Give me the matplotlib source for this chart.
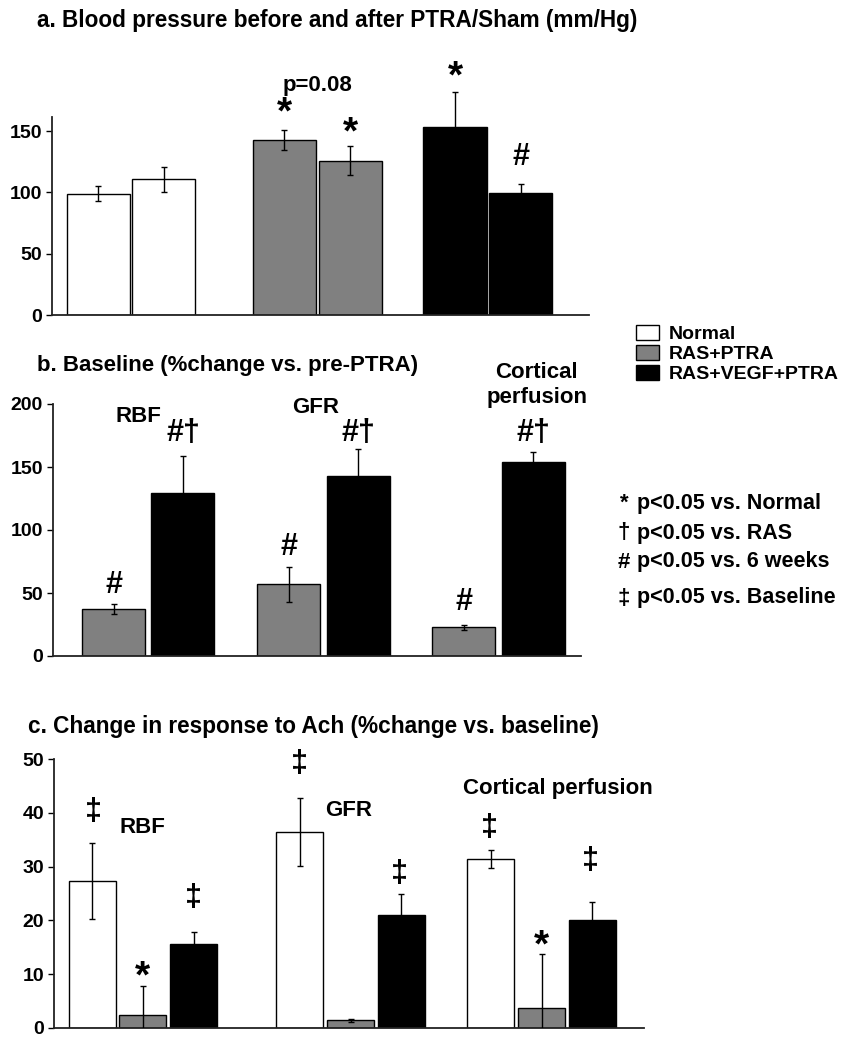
import matplotlib
matplotlib.use("Agg")
import matplotlib.pyplot as plt
from matplotlib.patches import Patch

plt.rcParams['font.family'] = ['Liberation Sans', 'DejaVu Sans']
plt.rcParams['font.weight'] = 'bold'

# groups and colours
groups = ['Normal', 'RAS+PTRA', 'RAS+VEGF+PTRA']
colors = ['white', '#808080', 'black']

# a. blood pressure, before / after PTRA (mm/Hg)
bp_mean = [[99, 110.6], [142.7, 125.8], [153.5, 99.2]]
bp_err = [[6, 10], [8, 12], [28, 8]]

# b. baseline, %change vs pre-PTRA
b_params = ['RBF', 'GFR', 'Cortical\nperfusion']
b_ras = [37, 57, 22.7]
b_ras_err = [4, 14, 2]
b_vegf = [129, 143, 154]
b_vegf_err = [30, 21, 8]

# c. change in response to Ach, %change vs baseline
c_params = ['RBF', 'GFR', 'Cortical perfusion']
c_normal = [27.3, 36.4, 31.4]
c_normal_err = [7, 6.3, 1.7]
c_ras = [2.5, 1.4, 3.7]
c_ras_err = [5.3, 0.2, 10.1]
c_vegf = [15.6, 21, 20.1]
c_vegf_err = [2.2, 3.9, 3.3]

W, H = 852, 1050
fig = plt.figure(figsize=(W / 100, H / 100), dpi=100)


def px_axes(x0, x1, y_top, y_bottom):
    return fig.add_axes([x0 / W, 1 - y_bottom / H, (x1 - x0) / W, (y_bottom - y_top) / H])


def style(ax, ymax, step):
    for s in ['top', 'right']:
        ax.spines[s].set_visible(False)
    for s in ['left', 'bottom']:
        ax.spines[s].set_color('#222222')
        ax.spines[s].set_linewidth(1.3)
    ax.set_xticks([])
    ax.set_yticks(range(0, ymax + 1, step))
    ax.tick_params(axis='y', length=4, width=1, labelsize=14, pad=3)
    for t in ax.get_yticklabels():
        t.set_fontweight('bold')


def bars(ax, x, h, err, color, width, clip=True):
    ax.bar(x, h, width=width, color=color, edgecolor='black', linewidth=1, zorder=2)
    ax.errorbar(x, h, yerr=err, fmt='none', ecolor='black', elinewidth=1,
                capsize=2.5, capthick=1, clip_on=clip, zorder=3)


def note(ax, x, y, s, size=16):
    ax.text(x, y, s, ha='center', va='center', fontsize=size, fontweight='bold',
            clip_on=False, zorder=4)


# ---- panel a
ax_a = px_axes(52, 589, 117, 315)
centers_a = [1.25, 4.2, 6.9]
for i, c in enumerate(colors):
    xs = [centers_a[i] - 0.52, centers_a[i] + 0.52]
    bars(ax_a, xs, bp_mean[i], bp_err[i], c, 1.0, clip=False)
ax_a.set_xlim(0, 8.5)
ax_a.set_ylim(0, 161.5)
style(ax_a, 150, 50)
note(ax_a, 4.2, 187, 'p=0.08', 16)
note(ax_a, 3.68, 164, '*', 28)
note(ax_a, 4.72, 148, '*', 28)
note(ax_a, 6.38, 194, '*', 28)
note(ax_a, 7.42, 129, '#', 22)
fig.text(37 / W, 1 - 20 / H, 'a. Blood pressure before and after PTRA/Sham (mm/Hg)',
         fontsize=16.3, fontweight='bold', va='center')

# ---- panel b
ax_b = px_axes(52.6, 581, 404, 656)
centers_b = [1.52, 4.3, 7.08]
xs_ras = [c - 0.55 for c in centers_b]
xs_vegf = [c + 0.55 for c in centers_b]
bars(ax_b, xs_ras, b_ras, b_ras_err, colors[1], 1.0)
bars(ax_b, xs_vegf, b_vegf, b_vegf_err, colors[2], 1.0)
ax_b.set_xlim(0, 8.39)
ax_b.set_ylim(0, 200)
style(ax_b, 200, 50)
note(ax_b, 1.36, 189.7, b_params[0])
note(ax_b, 4.17, 197, b_params[1])
note(ax_b, 7.69, 215, b_params[2])
for x in xs_vegf:
    note(ax_b, x, 177, '#\u2020', 22)
note(ax_b, xs_ras[0], 56, '#', 22)
note(ax_b, xs_ras[1], 86.5, '#', 22)
note(ax_b, xs_ras[2], 43, '#', 22)
fig.text(37 / W, 1 - 365 / H, 'b. Baseline (%change vs. pre-PTRA)',
         fontsize=16, fontweight='bold', va='center')

# ---- panel c
ax_c = px_axes(53.6, 644, 759, 1028)
centers_c = [1.9, 6.32, 10.38]
off = 1.08
bars(ax_c, [c - off for c in centers_c], c_normal, c_normal_err, colors[0], 1.0)
bars(ax_c, centers_c, c_ras, c_ras_err, colors[1], 1.0)
bars(ax_c, [c + off for c in centers_c], c_vegf, c_vegf_err, colors[2], 1.0)
ax_c.set_xlim(0, 12.56)
ax_c.set_ylim(0, 50)
style(ax_c, 50, 10)
note(ax_c, 1.9, 37.2, c_params[0])
note(ax_c, 6.28, 40.5, c_params[1])
note(ax_c, 10.73, 44.6, c_params[2])
dd = '\u2021'
note(ax_c, 0.84, 40.1, dd, 22)
note(ax_c, 2.97, 24.2, dd, 22)
note(ax_c, 5.22, 49, dd, 22)
note(ax_c, 7.35, 28.6, dd, 22)
note(ax_c, 9.28, 37.2, dd, 22)
note(ax_c, 11.41, 31, dd, 22)
note(ax_c, 1.9, 9.3, '*', 28)
note(ax_c, 10.37, 15.1, '*', 28)
fig.text(28 / W, 1 - 727 / H, 'c. Change in response to Ach (%change vs. baseline)',
         fontsize=16.3, fontweight='bold', va='center')

# ---- legends
handles = [Patch(facecolor=c, edgecolor='black', linewidth=1) for c in colors]
fig.legend(handles, groups, loc='upper left', bbox_to_anchor=(636 / W, 1 - 325 / H),
           frameon=False, fontsize=14, handlelength=1.2, handleheight=0.8,
           labelspacing=0.1, handletextpad=0.5, borderaxespad=0, borderpad=0)

sig = [('*', 'p<0.05 vs. Normal', 503), ('\u2020', 'p<0.05 vs. RAS', 533),
       ('#', 'p<0.05 vs. 6 weeks', 562), ('\u2021', 'p<0.05 vs. Baseline', 598)]
for sym, txt, y in sig:
    fig.text(624 / W, 1 - y / H, sym, fontsize=16, fontweight='bold', ha='center', va='center')
    fig.text(637 / W, 1 - y / H, txt, fontsize=15.5, fontweight='bold', va='center')

fig.savefig('out.png', dpi=100)
